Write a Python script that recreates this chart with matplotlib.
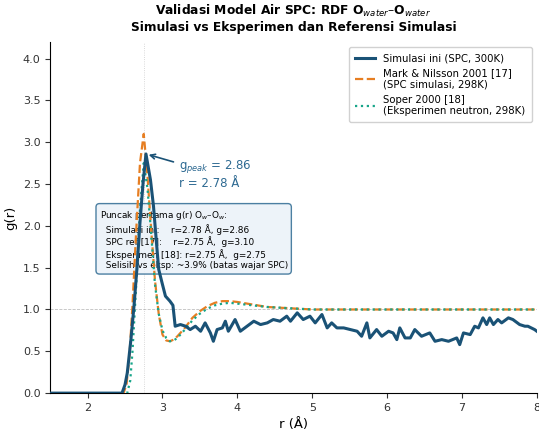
import numpy as np
import matplotlib.pyplot as plt

# data g(r) simulasi ini (SPC, 300K)
r_sim = [1.5, 2.46, 2.50, 2.53, 2.58, 2.62, 2.66, 2.70, 2.74, 2.78, 2.84, 2.88, 2.92, 2.95,
         3.00, 3.04, 3.10, 3.14, 3.17, 3.24, 3.31, 3.37, 3.44, 3.51, 3.57, 3.64, 3.68, 3.73,
         3.80, 3.84, 3.88, 3.97, 4.04, 4.13, 4.22, 4.31, 4.40, 4.48, 4.57, 4.66, 4.71, 4.80,
         4.88, 4.97, 5.04, 5.13, 5.20, 5.26, 5.33, 5.42, 5.51, 5.60, 5.66, 5.73, 5.77, 5.86,
         5.93, 6.02, 6.08, 6.13, 6.17, 6.24, 6.31, 6.37, 6.46, 6.57, 6.64, 6.73, 6.82, 6.93,
         6.97, 7.02, 7.11, 7.17, 7.22, 7.28, 7.33, 7.37, 7.42, 7.48, 7.53, 7.62, 7.68, 7.77,
         7.84, 7.88, 7.97, 8.0]
g_sim = [0.0, 0.0, 0.10, 0.24, 0.65, 1.04, 1.50, 2.04, 2.50, 2.86, 2.55, 2.24, 1.80, 1.48,
         1.30, 1.16, 1.10, 1.05, 0.80, 0.82, 0.80, 0.76, 0.80, 0.74, 0.84, 0.72, 0.62, 0.76,
         0.78, 0.86, 0.74, 0.88, 0.74, 0.80, 0.86, 0.82, 0.84, 0.88, 0.86, 0.92, 0.86, 0.96,
         0.88, 0.92, 0.84, 0.94, 0.78, 0.84, 0.78, 0.78, 0.76, 0.74, 0.68, 0.84, 0.66, 0.76,
         0.68, 0.74, 0.72, 0.64, 0.78, 0.66, 0.66, 0.76, 0.68, 0.72, 0.62, 0.64, 0.62, 0.66,
         0.58, 0.72, 0.70, 0.80, 0.78, 0.90, 0.82, 0.90, 0.82, 0.88, 0.84, 0.90, 0.88, 0.82,
         0.80, 0.80, 0.76, 0.74]

# Mark & Nilsson 2001 (SPC simulasi)
r_spc = [1.5, 2.48, 2.52, 2.56, 2.60, 2.65, 2.70, 2.75, 2.80, 2.85, 2.90, 2.95, 3.00, 3.05,
         3.10, 3.15, 3.20, 3.30, 3.40, 3.50, 3.60, 3.70, 3.80, 3.90, 4.00, 4.20, 4.40, 4.60,
         4.80, 5.00, 6.00, 7.00, 8.00]
g_spc = [0.0, 0.0, 0.10, 0.45, 1.05, 1.95, 2.75, 3.10, 2.60, 1.95, 1.35, 0.95, 0.70, 0.63,
         0.62, 0.64, 0.68, 0.78, 0.90, 0.98, 1.04, 1.08, 1.10, 1.10, 1.09, 1.06, 1.03, 1.02,
         1.01, 1.00, 1.00, 1.00, 1.00]

# Soper 2000 (eksperimen neutron)
r_exp = [1.5, 2.53, 2.57, 2.60, 2.65, 2.70, 2.75, 2.80, 2.85, 2.90, 2.95, 3.00, 3.05, 3.10,
         3.15, 3.20, 3.30, 3.40, 3.50, 3.60, 3.70, 3.80, 3.90, 4.00, 4.20, 4.40, 4.60, 4.80,
         5.00, 6.00, 7.00, 8.00]
g_exp = [0.0, 0.0, 0.15, 0.50, 1.30, 2.20, 2.75, 2.45, 1.90, 1.30, 0.95, 0.75, 0.66, 0.62,
         0.63, 0.66, 0.76, 0.87, 0.95, 1.01, 1.05, 1.07, 1.08, 1.07, 1.05, 1.03, 1.02, 1.01,
         1.00, 1.00, 1.00, 1.00]

c_sim = '#1a5276'
c_spc = '#e67e22'
c_exp = '#17a589'

fig = plt.figure(figsize=(5.39, 4.32), dpi=100)
ax = fig.add_axes([0.093, 0.090, 0.903, 0.813])

ax.axhline(1.0, color='gray', ls='--', lw=0.6, alpha=0.5, zorder=1)
ax.axvline(2.75, color='gray', ls=':', lw=0.6, alpha=0.4, zorder=1)

ax.plot(r_sim, g_sim, color=c_sim, lw=2.2, label='Simulasi ini (SPC, 300K)', zorder=4)
ax.plot(r_spc, g_spc, color=c_spc, lw=1.6, ls='--',
        label='Mark & Nilsson 2001 [17]\n(SPC simulasi, 298K)', zorder=3)
ax.plot(r_exp, g_exp, color=c_exp, lw=1.6, ls=':',
        label='Soper 2000 [18]\n(Eksperimen neutron, 298K)', zorder=3)

ax.annotate('g$_{peak}$ = 2.86\nr = 2.78 Å', xy=(2.78, 2.86), xytext=(3.22, 2.43),
            fontsize=8.5, color='#2e6a92', ha='left', va='bottom',
            arrowprops=dict(arrowstyle='->', color=c_sim, lw=1.2))

info = ('Puncak pertama g(r) O$_w$–O$_w$:\n'
        '  Simulasi ini:    r=2.78 Å, g=2.86\n'
        '  SPC ref [17]:    r=2.75 Å,  g=3.10\n'
        '  Eksperimen [18]: r=2.75 Å,  g=2.75\n'
        '  Selisih vs eksp: ~3.9% (batas wajar SPC)')
ax.text(2.16, 2.2, info, fontsize=6.4, va='top', ha='left', zorder=2,
        bbox=dict(boxstyle='round,pad=0.4', fc='#eaf2f8', ec='#2e6a92', lw=1.0, alpha=0.85))

ax.set_xlim(1.5, 8)
ax.set_ylim(0, 4.2)
ax.set_yticks(np.arange(0, 4.01, 0.5))
ax.set_xlabel('r (Å)', fontsize=9.5)
ax.set_ylabel('g(r)', fontsize=9.5)
ax.tick_params(labelsize=8, colors='#333333')
ax.spines['top'].set_visible(False)
ax.spines['right'].set_visible(False)
ax.set_title('Validasi Model Air SPC: RDF O$_{water}$–O$_{water}$\n'
             'Simulasi vs Eksperimen dan Referensi Simulasi',
             fontsize=8.8, fontweight='bold', pad=8)
ax.legend(loc='upper right', fontsize=7.3, framealpha=0.9, borderpad=0.6)

fig.savefig('out.png', dpi=100)
